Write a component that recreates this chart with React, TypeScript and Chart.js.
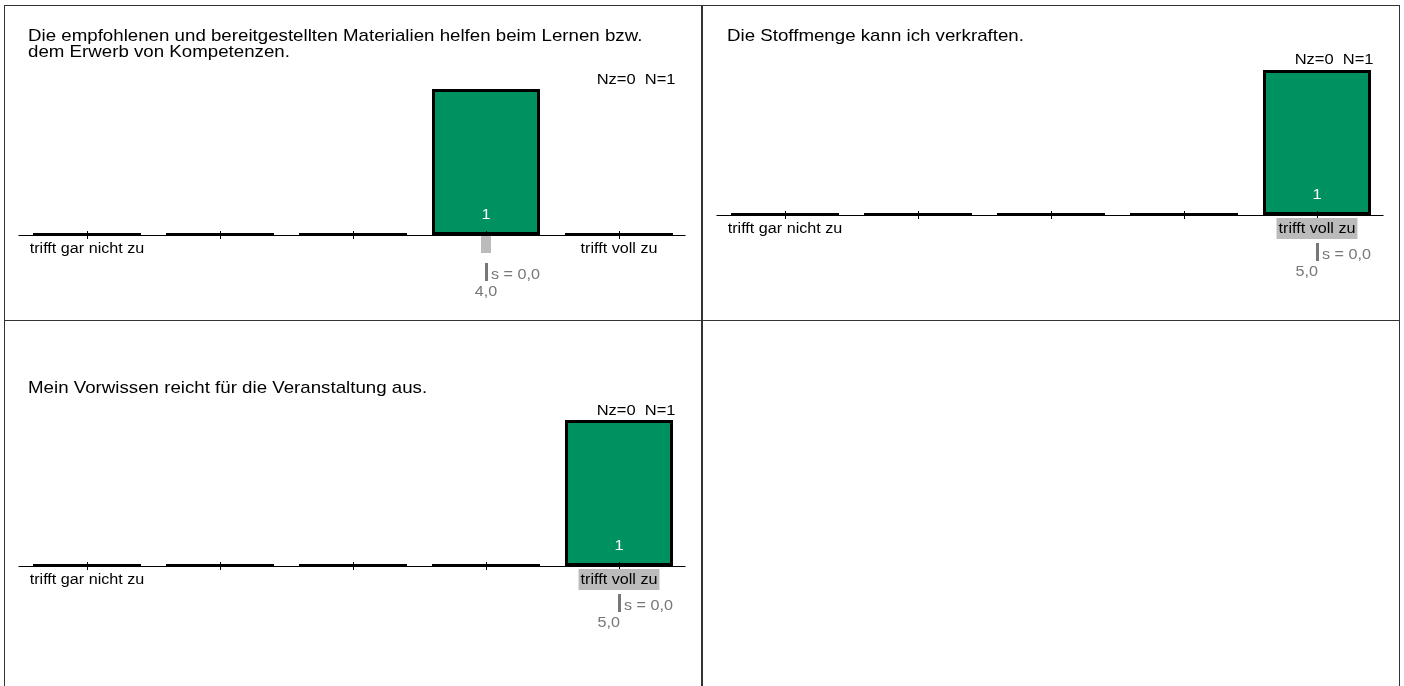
import React, { useEffect, useRef } from 'react';
import { Chart, registerables } from 'chart.js';

Chart.register(...registerables);

// ---------- data ----------
const categories = ['trifft gar nicht zu', '', '', '', 'trifft voll zu'];
const titles1 = ['Die empfohlenen und bereitgestellten Materialien helfen beim Lernen bzw.', 'dem Erwerb von Kompetenzen.'];
const titles2 = ['Die Stoffmenge kann ich verkraften.'];
const titles3 = ['Mein Vorwissen reicht für die Veranstaltung aus.'];
const counts1 = [0, 0, 0, 1, 0];
const counts2 = [0, 0, 0, 0, 1];
const counts3 = [0, 0, 0, 0, 1];
const means = [4.0, 5.0, 5.0];
const stdDevs = [0.0, 0.0, 0.0];
const nzValues = [0, 0, 0];
const nValues = [1, 1, 1];

// ---------- style ----------
const SX = 1.1;
const FONT = '"Liberation Sans", Arial, Helvetica, sans-serif';
const GREEN = '#009160';
const GREY_TEXT = '#777777';
const GREY_BOX = '#bbbbbb';
const TITLE_SIZE = 17;
const LABEL_SIZE = 14.7;
const SMALL_SIZE = 14.7;

type PanelCfg = {
  titles: string[];
  counts: number[];
  mean: number;
  sd: number;
  nz: number;
  n: number;
  left: number;
  top: number;
  width: number;
  height: number;
  pad: { left: number; right: number; top: number; bottom: number };
  titleX: number;
  titleY: number;
};

const panels: PanelCfg[] = [
  {
    titles: titles1, counts: counts1, mean: means[0], sd: stdDevs[0], nz: nzValues[0], n: nValues[0],
    left: 4, top: 5, width: 698, height: 315,
    pad: { left: 16.5, right: 16.5, top: 84, bottom: 85 }, titleX: 24, titleY: 31,
  },
  {
    titles: titles2, counts: counts2, mean: means[1], sd: stdDevs[1], nz: nzValues[1], n: nValues[1],
    left: 702, top: 5, width: 697, height: 315,
    pad: { left: 16.5, right: 15.5, top: 65, bottom: 105 }, titleX: 25, titleY: 31,
  },
  {
    titles: titles3, counts: counts3, mean: means[2], sd: stdDevs[2], nz: nzValues[2], n: nValues[2],
    left: 4, top: 321, width: 698, height: 365,
    pad: { left: 16.5, right: 16.5, top: 99, bottom: 120 }, titleX: 24, titleY: 67,
  },
];

const fmt = (v: number) => v.toFixed(1).replace('.', ',');

function drawText(
  ctx: CanvasRenderingContext2D, text: string, x: number, y: number,
  align: 'left' | 'center' | 'right', size: number, color: string,
): number {
  ctx.save();
  ctx.font = `${size}px ${FONT}`;
  ctx.fillStyle = color;
  ctx.textBaseline = 'middle';
  ctx.textAlign = 'left';
  const w = ctx.measureText(text).width * SX;
  const left = align === 'left' ? x : align === 'center' ? x - w / 2 : x - w;
  ctx.translate(left, y);
  ctx.scale(SX, 1);
  ctx.fillText(text, 0, 0);
  ctx.restore();
  return w;
}

function measure(ctx: CanvasRenderingContext2D, text: string, size: number) {
  ctx.save();
  ctx.font = `${size}px ${FONT}`;
  const w = ctx.measureText(text).width * SX;
  ctx.restore();
  return w;
}

function PanelChart({ cfg }: { cfg: PanelCfg }) {
  const ref = useRef<HTMLCanvasElement | null>(null);

  useEffect(() => {
    if (!ref.current) return;
    const decorPlugin = {
      id: 'decor',
      beforeDatasetsDraw(chart: any) {
        const ctx: CanvasRenderingContext2D = chart.ctx;
        const area = chart.chartArea;
        const xs = chart.scales.x;
        const meta = chart.getDatasetMeta(0);
        const base = area.bottom;
        ctx.save();
        ctx.strokeStyle = '#000';
        ctx.lineWidth = 1;
        ctx.beginPath();
        ctx.moveTo(area.left - 2, base + 0.5);
        ctx.lineTo(area.right, base + 0.5);
        ctx.stroke();
        ctx.lineWidth = 3;
        categories.forEach((_, i) => {
          const cx = xs.getPixelForValue(i);
          const w = meta.data[i].width;
          ctx.beginPath();
          ctx.moveTo(cx - w / 2, base - 0.5);
          ctx.lineTo(cx + w / 2, base - 0.5);
          ctx.stroke();
        });
        ctx.restore();
      },
      afterDatasetsDraw(chart: any) {
        const ctx: CanvasRenderingContext2D = chart.ctx;
        const area = chart.chartArea;
        const xs = chart.scales.x;
        const meta = chart.getDatasetMeta(0);
        const base = area.bottom;

        cfg.titles.forEach((t, i) => drawText(ctx, t, cfg.titleX, cfg.titleY + i * 16, 'left', TITLE_SIZE, '#000'));
        drawText(ctx, `Nz=${cfg.nz}  N=${cfg.n}`, area.right - 10, base - 155, 'right', 15, '#000');

        cfg.counts.forEach((v, i) => {
          if (v > 0) {
            const bar = meta.data[i];
            drawText(ctx, String(v), bar.x, base - 20, 'center', 15, '#fff');
          }
        });

        ctx.save();
        ctx.strokeStyle = '#000';
        ctx.lineWidth = 1;
        categories.forEach((_, i) => {
          const cx = Math.round(xs.getPixelForValue(i)) + 0.5;
          ctx.beginPath();
          ctx.moveTo(cx, base - 4);
          ctx.lineTo(cx, base + 4);
          ctx.stroke();
        });
        ctx.restore();

        const meanIdx = cfg.mean - 1;
        const mx = xs.getPixelForValue(meanIdx);
        const labelY = base + 14;
        const roundIdx = Math.round(meanIdx);
        const onLabel = Math.abs(roundIdx - meanIdx) < 1e-6 && categories[roundIdx] !== '';
        ctx.save();
        ctx.fillStyle = GREY_BOX;
        if (onLabel) {
          const w = measure(ctx, categories[roundIdx], LABEL_SIZE);
          const cx = xs.getPixelForValue(roundIdx);
          ctx.fillRect(cx - w / 2 - 2, labelY - 11, w + 4, 21);
        } else {
          ctx.fillRect(mx - 5, base + 1, 10, 17);
        }
        ctx.restore();

        categories.forEach((c, i) => {
          if (c) drawText(ctx, c, xs.getPixelForValue(i), labelY, 'center', LABEL_SIZE, '#000');
        });

        ctx.save();
        ctx.fillStyle = GREY_TEXT;
        ctx.fillRect(mx - 1, base + 28, 3, 18);
        ctx.restore();
        drawText(ctx, `s = ${fmt(cfg.sd)}`, mx + 5, base + 40, 'left', SMALL_SIZE, GREY_TEXT);
        const isLast = roundIdx === categories.length - 1;
        drawText(ctx, fmt(cfg.mean), isLast ? mx + 1 : mx, base + 57, isLast ? 'right' : 'center', SMALL_SIZE, GREY_TEXT);
      },
    };

    const chart = new Chart(ref.current, {
      type: 'bar',
      data: {
        labels: categories,
        datasets: [
          {
            data: cfg.counts,
            backgroundColor: GREEN,
            borderColor: '#000',
            borderWidth: 3,
            borderSkipped: false,
            barPercentage: 0.812,
            categoryPercentage: 1,
          } as any,
        ],
      },
      options: {
        responsive: false,
        animation: false,
        events: [],
        layout: { padding: cfg.pad },
        plugins: {
          legend: { display: false },
          tooltip: { enabled: false },
          title: { display: false },
        },
        scales: {
          x: { type: 'category', display: false, offset: true, grid: { display: false } },
          y: { display: false, min: 0, max: Math.max(...cfg.counts) },
        },
      },
      plugins: [decorPlugin],
    });
    return () => chart.destroy();
  }, [cfg]);

  return (
    <canvas
      ref={ref}
      width={cfg.width}
      height={cfg.height}
      style={{ position: 'absolute', left: cfg.left, top: cfg.top, width: cfg.width, height: cfg.height }}
    />
  );
}

const boxStyle = (left: number, top: number, width: number, height: number): React.CSSProperties => ({
  position: 'absolute',
  left,
  top,
  width,
  height,
  border: '1px solid #333',
  boxSizing: 'border-box',
});

export default function App() {
  return (
    <div
      style={{
        position: 'fixed',
        left: 0,
        top: 0,
        width: 1404,
        height: 686,
        overflow: 'hidden',
        background: '#fff',
      }}
    >
      <div style={boxStyle(4, 5, 698, 316)} />
      <div style={boxStyle(702, 5, 698, 316)} />
      <div style={boxStyle(4, 320, 698, 400)} />
      <div style={boxStyle(702, 320, 698, 400)} />
      {panels.map((p, i) => (
        <PanelChart key={i} cfg={p} />
      ))}
    </div>
  );
}
